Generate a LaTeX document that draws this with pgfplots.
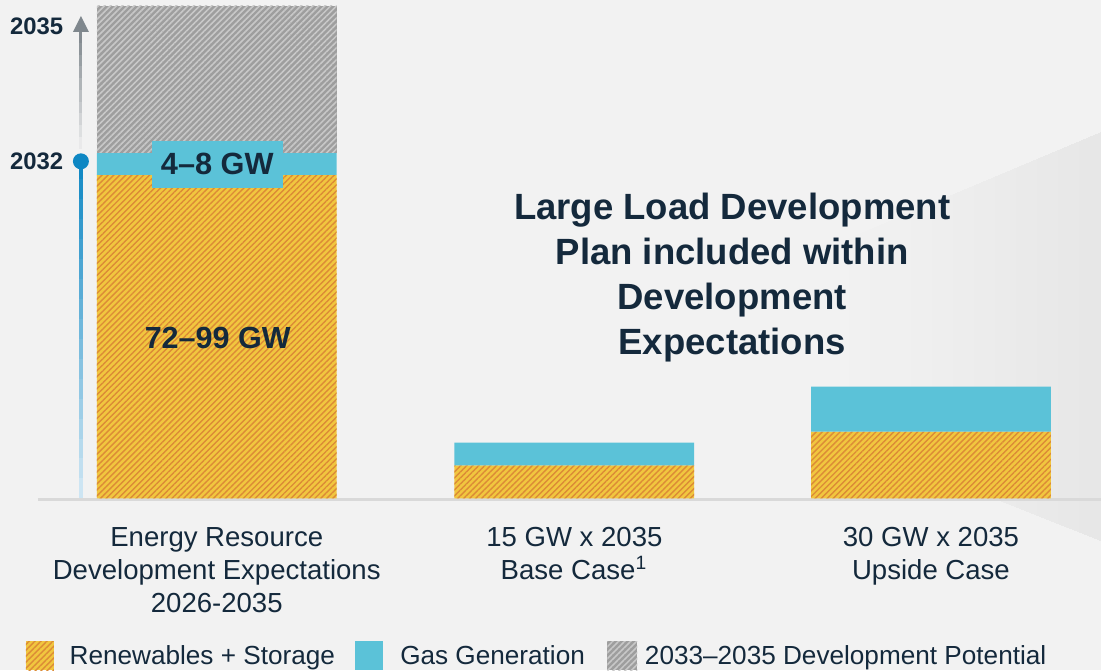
\documentclass[border=0pt]{standalone}
\usepackage{pgfplots}
\pgfplotsset{compat=1.18}
\usepackage{fontspec}
\setmainfont{Liberation Sans}
\usetikzlibrary{patterns.meta}
\definecolor{bg}{HTML}{F2F2F2}
\definecolor{ylw}{HTML}{F1C63F}
\definecolor{org}{HTML}{DC8B36}
\definecolor{cyn}{HTML}{5BC2D8}
\definecolor{gfill}{HTML}{9E9E9E}
\definecolor{gline}{HTML}{C8C8C8}
\definecolor{navy}{HTML}{14293C}
\definecolor{tblue}{HTML}{0E87C3}
\definecolor{tblueL}{HTML}{D3E8F4}
\definecolor{tgray}{HTML}{7F878D}
\definecolor{wedge}{HTML}{E6E6E6}
\definecolor{baseln}{HTML}{D9D9D9}
\tikzset{
  ystripe/.style={fill=ylw, draw=none, postaction={pattern color=org, pattern={Lines[angle=45,distance=1.2pt,line width=0.4pt]}}},
  gstripe/.style={fill=gfill, draw=none, postaction={pattern color=gline, pattern={Lines[angle=45,distance=1.2pt,line width=0.45pt]}}},
}
\begin{document}
\begin{tikzpicture}
\begin{axis}[
  scale only axis, width=110.2mm, height=67.1mm,
  xmin=0, xmax=1102, ymin=-172, ymax=499,
  axis background/.style={fill=bg},
  axis x line*=middle, axis y line=none,
  axis line style={draw=none},
  ybar stacked, reverse stacked plots=false, bar width=240,
  xtick={217,575,932},
  xticklabels={{Energy Resource\\Development Expectations\\2026-2035},{15 GW x 2035\\Base Case\textsuperscript{1}},{30 GW x 2035\\Upside Case}},
  xticklabel style={align=center, font=\fontsize{7.85}{9.4}\selectfont, text=navy, anchor=north, inner sep=0pt, yshift=-2.8mm},
  major tick length=0pt,
  ytick=\empty,
  clip=false,
]
% background wedge (stepped gradient)
\fill[wedge!4!bg]  (axis cs:850,260)   -- (axis cs:1102,366) -- (axis cs:1102,-42) -- (axis cs:850,58) -- cycle;
\fill[wedge!12!bg] (axis cs:871,268.8) -- (axis cs:1102,366) -- (axis cs:1102,-42) -- (axis cs:871,49.7) -- cycle;
\fill[wedge!20!bg] (axis cs:892,277.7) -- (axis cs:1102,366) -- (axis cs:1102,-42) -- (axis cs:892,41.3) -- cycle;
\fill[wedge!28!bg] (axis cs:913,286.5) -- (axis cs:1102,366) -- (axis cs:1102,-42) -- (axis cs:913,33.0) -- cycle;
\fill[wedge!36!bg] (axis cs:934,295.3) -- (axis cs:1102,366) -- (axis cs:1102,-42) -- (axis cs:934,24.7) -- cycle;
\fill[wedge!44!bg] (axis cs:955,304.2) -- (axis cs:1102,366) -- (axis cs:1102,-42) -- (axis cs:955,16.3) -- cycle;
\fill[wedge!52!bg] (axis cs:976,313.0) -- (axis cs:1102,366) -- (axis cs:1102,-42) -- (axis cs:976,8.0) -- cycle;
\fill[wedge!60!bg] (axis cs:997,321.8) -- (axis cs:1102,366) -- (axis cs:1102,-42) -- (axis cs:997,-0.3) -- cycle;
\fill[wedge!68!bg] (axis cs:1018,330.7) -- (axis cs:1102,366) -- (axis cs:1102,-42) -- (axis cs:1018,-8.7) -- cycle;
\fill[wedge!76!bg] (axis cs:1039,339.5) -- (axis cs:1102,366) -- (axis cs:1102,-42) -- (axis cs:1039,-17.0) -- cycle;
\fill[wedge!84!bg] (axis cs:1060,348.3) -- (axis cs:1102,366) -- (axis cs:1102,-42) -- (axis cs:1060,-25.3) -- cycle;
\fill[wedge!92!bg] (axis cs:1081,357.2) -- (axis cs:1102,366) -- (axis cs:1102,-42) -- (axis cs:1081,-33.7) -- cycle;
% baseline
\draw[baseln, line width=0.25mm] (axis cs:38,-1) -- (axis cs:1102,-1);

% bars
\addplot[ystripe] coordinates {(217,324) (575,33) (932,67)};
\addplot[fill=cyn, draw=none] coordinates {(217,22) (575,23) (932,45)};
\addplot[gstripe] coordinates {(217,147) (575,0) (932,0)};

% bar annotations
\node[fill=cyn, minimum width=13.1mm, minimum height=4.7mm, inner sep=0pt, font=\bfseries\fontsize{8.75}{10}\selectfont, text=navy] at (axis cs:217.5,334.5) {4–8 GW};
\node[font=\bfseries\fontsize{8.7}{10}\selectfont, text=navy] at (axis cs:218,161) {72–99 GW};

% timeline (blue, fading downwards)
\fill[tblue!3!tblueL]  (axis cs:79,0)   rectangle (axis cs:83,20.5);
\fill[tblue!9!tblueL]  (axis cs:79,20)  rectangle (axis cs:83,40.5);
\fill[tblue!15!tblueL] (axis cs:79,40)  rectangle (axis cs:83,60.5);
\fill[tblue!21!tblueL] (axis cs:79,60)  rectangle (axis cs:83,80.5);
\fill[tblue!27!tblueL] (axis cs:79,80)  rectangle (axis cs:83,100.5);
\fill[tblue!33!tblueL] (axis cs:79,100) rectangle (axis cs:83,120.5);
\fill[tblue!38!tblueL] (axis cs:79,120) rectangle (axis cs:83,140.5);
\fill[tblue!44!tblueL] (axis cs:79,140) rectangle (axis cs:83,160.5);
\fill[tblue!50!tblueL] (axis cs:79,160) rectangle (axis cs:83,180.5);
\fill[tblue!56!tblueL] (axis cs:79,180) rectangle (axis cs:83,200.5);
\fill[tblue!62!tblueL] (axis cs:79,200) rectangle (axis cs:83,220.5);
\fill[tblue!68!tblueL] (axis cs:79,220) rectangle (axis cs:83,240.5);
\fill[tblue!74!tblueL] (axis cs:79,240) rectangle (axis cs:83,260.5);
\fill[tblue!80!tblueL] (axis cs:79,260) rectangle (axis cs:83,280.5);
\fill[tblue!86!tblueL] (axis cs:79,280) rectangle (axis cs:83,300.5);
\fill[tblue!92!tblueL] (axis cs:79,300) rectangle (axis cs:83,320.5);
\fill[tblue!98!tblueL] (axis cs:79,320) rectangle (axis cs:83,338);
% timeline (gray arrow, fading downwards)
\fill[tgray!8!bg]   (axis cs:79.5,350)   rectangle (axis cs:82.5,362.3);
\fill[tgray!18!bg]  (axis cs:79.5,361.8) rectangle (axis cs:82.5,374.1);
\fill[tgray!28!bg]  (axis cs:79.5,373.6) rectangle (axis cs:82.5,385.9);
\fill[tgray!38!bg]  (axis cs:79.5,385.4) rectangle (axis cs:82.5,397.7);
\fill[tgray!48!bg]  (axis cs:79.5,397.2) rectangle (axis cs:82.5,409.5);
\fill[tgray!58!bg]  (axis cs:79.5,409)   rectangle (axis cs:82.5,421.3);
\fill[tgray!68!bg]  (axis cs:79.5,420.8) rectangle (axis cs:82.5,433.1);
\fill[tgray!78!bg]  (axis cs:79.5,432.6) rectangle (axis cs:82.5,444.9);
\fill[tgray!88!bg]  (axis cs:79.5,444.4) rectangle (axis cs:82.5,456.7);
\fill[tgray!96!bg]  (axis cs:79.5,456.2) rectangle (axis cs:82.5,468);
\fill[tgray] (axis cs:73,467) -- (axis cs:89,467) -- (axis cs:81,483) -- cycle;
\fill[tblue] (axis cs:81,337.5) circle[radius=0.8mm];
\node[anchor=east, inner sep=0pt, font=\bfseries\fontsize{6.8}{8}\selectfont, text=navy] at (axis cs:64,472.5) {2035};
\node[anchor=east, inner sep=0pt, font=\bfseries\fontsize{6.8}{8}\selectfont, text=navy] at (axis cs:64,337.5) {2032};

% title
\node[align=center, font=\bfseries\fontsize{10.4}{12.8}\selectfont, text=navy] at (axis cs:733,221) {Large Load Development\\Plan included within\\Development\\Expectations};

% legend
\fill[ystripe] (axis cs:26,-172) rectangle (axis cs:54,-143);
\fill[cyn] (axis cs:355,-172) rectangle (axis cs:383,-143);
\fill[gstripe] (axis cs:608,-172) rectangle (axis cs:638,-143);
\node[anchor=base west, inner sep=0pt, font=\fontsize{7.45}{9}\selectfont, text=navy] at (axis cs:69,-166) {Renewables + Storage};
\node[anchor=base west, inner sep=0pt, font=\fontsize{7.45}{9}\selectfont, text=navy] at (axis cs:400,-166) {Gas Generation};
\node[anchor=base west, inner sep=0pt, font=\fontsize{7.45}{9}\selectfont, text=navy] at (axis cs:645,-166) {2033–2035 Development Potential};
\end{axis}
\end{tikzpicture}
\end{document}
